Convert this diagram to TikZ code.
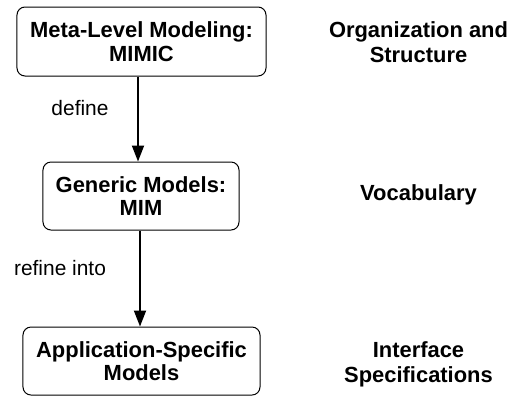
\documentclass[tikz,border=0pt]{standalone}
\usepackage{fontspec}
\setmainfont{Liberation Sans}
\usetikzlibrary{arrows.meta,calc}
\begin{document}
\begin{tikzpicture}[x=1bp,y=-1bp,
  box/.style={draw,line width=1bp,rounded corners=8bp,inner sep=0pt,align=center,
    font=\fontsize{22}{23.5}\selectfont\bfseries},
  side/.style={align=center,inner sep=0pt,font=\fontsize{22}{25}\selectfont\bfseries},
  lbl/.style={inner sep=0pt,font=\fontsize{21}{24}\selectfont},
  arr/.style={line width=1.8bp,-{Triangle[length=16bp,width=12bp]}}]
\useasboundingbox (0,0) rectangle (510,396);
\node[box,minimum width=249bp,minimum height=69bp] (b1) at (141.5,41.5) {Meta-Level Modeling:\\MIMIC};
\node[box,minimum width=196bp,minimum height=68bp] (b2) at (141,196) {Generic Models:\\MIM};
\node[box,minimum width=237bp,minimum height=68bp] (b3) at (141.5,361) {Application-Specific\\Models};
\draw[arr] ($(b1.south)+(-3.5,0)$) -- ($(b2.north)+(-3,0)$);
\draw[arr] ($(b2.south)+(-1,0)$) -- ($(b3.north)+(-1.5,0)$);
\node[lbl] (d) at (80,108) {define};
\node[lbl] (r) at (60,268) {refine into};
\node[side] (s1) at (418.5,42) {Organization and\\Structure};
\node[side] (s2) at (418.5,195) {Vocabulary};
\node[side] (s3) at (418.5,364) {Interface\\Specifications};
\end{tikzpicture}
\end{document}
